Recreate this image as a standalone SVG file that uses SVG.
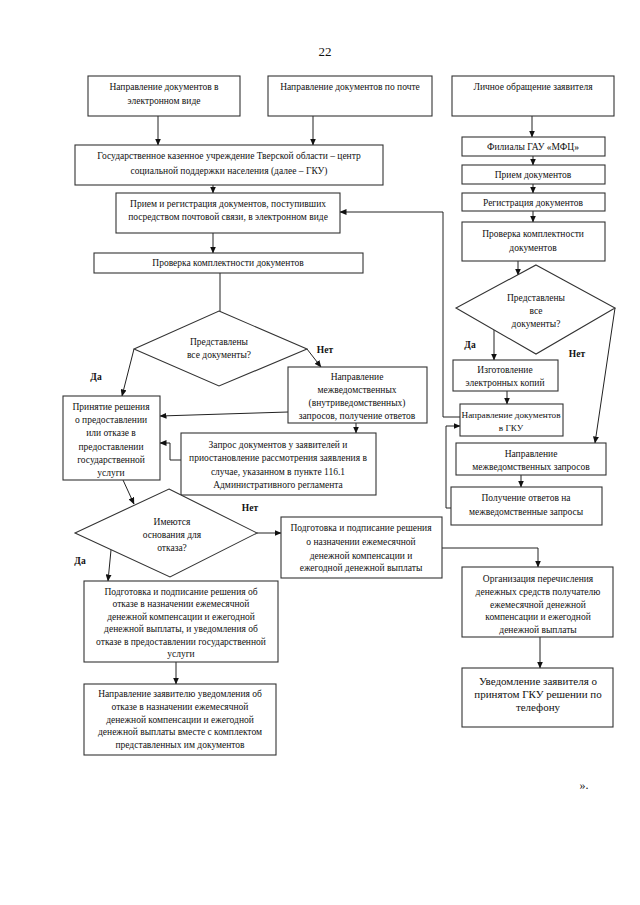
<svg xmlns="http://www.w3.org/2000/svg" width="640" height="905" viewBox="0 0 640 905">
<defs>
<marker id="ah" markerWidth="7" markerHeight="6" refX="6.5" refY="3" orient="auto" markerUnits="userSpaceOnUse">
<path d="M0,0 L7,3 L0,6 Z" fill="#111"/>
</marker>
<style>
.b{fill:#fff;stroke:#333;stroke-width:1.1}
.t{font-family:"Liberation Serif","Times New Roman",serif;font-size:9.5px;fill:#111;text-anchor:middle}
.s{font-size:9.2px}
.lb{font-family:"Liberation Serif","Times New Roman",serif;font-size:9.5px;font-weight:bold;fill:#111;text-anchor:middle}
.big{font-size:11px}
.c{fill:none;stroke:#222;stroke-width:1}
.a{marker-end:url(#ah)}
</style>
</defs>
<rect width="640" height="905" fill="#fff"/>
<text x="325" y="56" class="t" style="font-size:13px">22</text>

<g id="connectors">
<line class="c a" x1="158" y1="116" x2="158" y2="145"/>
<line class="c a" x1="313" y1="116" x2="313" y2="145"/>
<line class="c a" x1="532" y1="116" x2="532" y2="137"/>
<line class="c a" x1="213" y1="185" x2="213" y2="193"/>
<line class="c a" x1="213" y1="233" x2="213" y2="253"/>
<line class="c" x1="220" y1="273" x2="220" y2="311"/>
<line class="c a" x1="134" y1="349" x2="122" y2="396"/>
<line class="c a" x1="307" y1="349" x2="321" y2="367"/>
<line class="c a" x1="288" y1="412" x2="160" y2="416"/>
<line class="c a" x1="356" y1="423" x2="356" y2="433"/>
<polyline class="c a" points="181,460 170,460 170,443 160,443"/>
<line class="c a" x1="123" y1="480" x2="134" y2="504"/>
<line class="c a" x1="257" y1="533" x2="281" y2="533"/>
<line class="c a" x1="111" y1="550" x2="108" y2="581"/>
<line class="c a" x1="176" y1="662" x2="176" y2="684"/>
<polyline class="c a" points="442,548 538,548 538,567"/>
<line class="c a" x1="540" y1="637" x2="540" y2="668"/>
<line class="c a" x1="533" y1="156" x2="533" y2="165"/>
<line class="c a" x1="533" y1="184" x2="533" y2="193"/>
<line class="c a" x1="533" y1="211" x2="533" y2="222"/>
<line class="c a" x1="518" y1="261" x2="518" y2="275"/>
<line class="c a" x1="494" y1="330" x2="494" y2="360"/>
<line class="c a" x1="615" y1="308" x2="595" y2="443"/>
<line class="c a" x1="507" y1="391" x2="507" y2="404"/>
<polyline class="c a" points="460,417 443,417 443,212 340,212"/>
<line class="c a" x1="521" y1="475" x2="521" y2="487"/>
<polyline class="c a" points="451,508 446,508 446,426 460,426"/>
</g>

<g id="n-electronic">
<rect class="b" x="88" y="76" width="152" height="40"/>
<text class="t" x="164" y="90">Направление документов в</text>
<text class="t" x="164" y="104">электронном виде</text>
</g>
<g id="n-post">
<rect class="b" x="268" y="76" width="164" height="40"/>
<text class="t" x="350" y="90">Направление документов по почте</text>
</g>
<g id="n-personal">
<rect class="b" x="452" y="76" width="162" height="40"/>
<text class="t" x="533" y="90">Личное обращение заявителя</text>
</g>
<g id="n-gku">
<rect class="b" x="75" y="145" width="308" height="40"/>
<text class="t" x="229" y="159">Государственное казенное учреждение Тверской области – центр</text>
<text class="t" x="229" y="174">социальной поддержки населения (далее – ГКУ)</text>
</g>
<g id="n-receive">
<rect class="b" x="116" y="193" width="224" height="40"/>
<text class="t" x="228" y="207">Прием и регистрация документов, поступивших</text>
<text class="t" x="228" y="220">посредством почтовой связи, в электронном виде</text>
</g>
<g id="n-check">
<rect class="b" x="94" y="253" width="269" height="20"/>
<text class="t" x="228" y="266">Проверка комплектности документов</text>
</g>
<g id="n-dec1">
<polygon class="b" points="219,311 307,349 219,386 134,349"/>
<text class="t" x="219" y="345">Представлены</text>
<text class="t" x="219" y="358">все документы?</text>
</g>
<text class="lb" x="96" y="380">Да</text>
<text class="lb" x="325" y="353">Нет</text>
<g id="n-interdept">
<rect class="b" x="288" y="367" width="139" height="56"/>
<text class="t" x="357" y="380">Направление</text>
<text class="t" x="357" y="393">межведомственных</text>
<text class="t" x="357" y="406">(внутриведомственных)</text>
<text class="t" x="357" y="419">запросов, получение ответов</text>
</g>
<g id="n-decision">
<rect class="b" x="63" y="396" width="97" height="84"/>
<text class="t" x="111" y="410">Принятие решения</text>
<text class="t" x="111" y="423">о предоставлении</text>
<text class="t" x="111" y="436">или отказе в</text>
<text class="t" x="111" y="450">предоставлении</text>
<text class="t" x="111" y="463">государственной</text>
<text class="t" x="111" y="476">услуги</text>
</g>
<g id="n-request">
<rect class="b" x="181" y="433" width="195" height="62"/>
<text class="t" x="278" y="448">Запрос документов у заявителей и</text>
<text class="t" x="278" y="461">приостановление рассмотрения заявления в</text>
<text class="t" x="278" y="475">случае, указанном в пункте 116.1</text>
<text class="t" x="278" y="488">Административного регламента</text>
</g>
<g id="n-dec2">
<polygon class="b" points="169,489 257,533 170,577 75,533"/>
<text class="t" x="172" y="525">Имеются</text>
<text class="t" x="172" y="538">основания для</text>
<text class="t" x="172" y="551">отказа?</text>
</g>
<text class="lb" x="250" y="511">Нет</text>
<text class="lb" x="80" y="564">Да</text>
<g id="n-refuse">
<rect class="b" x="84" y="581" width="194" height="81"/>
<text class="t" x="181" y="595">Подготовка и подписание решения об</text>
<text class="t" x="181" y="607">отказе в назначении ежемесячной</text>
<text class="t" x="181" y="620">денежной компенсации и ежегодной</text>
<text class="t" x="181" y="632">денежной выплаты, и уведомления об</text>
<text class="t" x="181" y="645">отказе в предоставлении государственной</text>
<text class="t" x="181" y="657">услуги</text>
</g>
<g id="n-notify-refuse">
<rect class="b" x="84" y="684" width="192" height="71"/>
<text class="t" x="180" y="697">Направление заявителю уведомления об</text>
<text class="t" x="180" y="710">отказе в назначении ежемесячной</text>
<text class="t" x="180" y="723">денежной компенсации и ежегодной</text>
<text class="t" x="180" y="735">денежной выплаты вместе с комплектом</text>
<text class="t" x="180" y="748">представленных им документов</text>
</g>
<g id="n-grant">
<rect class="b" x="281" y="517" width="161" height="61"/>
<text class="t" x="361" y="531">Подготовка и подписание решения</text>
<text class="t" x="361" y="545">о назначении ежемесячной</text>
<text class="t" x="361" y="559">денежной компенсации и</text>
<text class="t" x="361" y="571">ежегодной денежной выплаты</text>
</g>
<g id="n-transfer">
<rect class="b" x="462" y="567" width="151" height="70"/>
<text class="t" x="538" y="582">Организация перечисления</text>
<text class="t" x="538" y="595">денежных средств получателю</text>
<text class="t" x="538" y="608">ежемесячной денежной</text>
<text class="t" x="538" y="620">компенсации и ежегодной</text>
<text class="t" x="538" y="633">денежной выплаты</text>
</g>
<g id="n-phone">
<rect class="b" x="462" y="668" width="151" height="59"/>
<text class="t big" x="538" y="685">Уведомление заявителя о</text>
<text class="t big" x="538" y="698">принятом ГКУ решении по</text>
<text class="t big" x="538" y="711">телефону</text>
</g>
<g id="n-mfc">
<rect class="b" x="462" y="137" width="143" height="19"/>
<text class="t" x="533" y="150">Филиалы ГАУ «МФЦ»</text>
</g>
<g id="n-mfc-receive">
<rect class="b" x="462" y="165" width="143" height="19"/>
<text class="t" x="533" y="178">Прием документов</text>
</g>
<g id="n-mfc-register">
<rect class="b" x="462" y="193" width="143" height="18"/>
<text class="t" x="533" y="206">Регистрация документов</text>
</g>
<g id="n-mfc-check">
<rect class="b" x="462" y="222" width="143" height="39"/>
<text class="t" x="533" y="237">Проверка комплектности</text>
<text class="t" x="533" y="251">документов</text>
</g>
<g id="n-dec3">
<polygon class="b" points="536,265 615,308 536,354 456,308"/>
<text class="t" x="536" y="301">Представлены</text>
<text class="t" x="536" y="314">все</text>
<text class="t" x="536" y="327">документы?</text>
</g>
<text class="lb" x="470" y="348">Да</text>
<text class="lb" x="577" y="357">Нет</text>
<g id="n-copies">
<rect class="b" x="453" y="360" width="105" height="31"/>
<text class="t" x="505" y="373">Изготовление</text>
<text class="t" x="505" y="386">электронных копий</text>
</g>
<g id="n-send-gku">
<rect class="b" x="460" y="404" width="103" height="32"/>
<text class="t s" x="511" y="418">Направление документов</text>
<text class="t s" x="511" y="431">в ГКУ</text>
</g>
<g id="n-mfc-interdept">
<rect class="b" x="456" y="443" width="150" height="32"/>
<text class="t" x="531" y="457">Направление</text>
<text class="t" x="531" y="470">межведомственных запросов</text>
</g>
<g id="n-answers">
<rect class="b" x="451" y="487" width="151" height="38"/>
<text class="t" x="526" y="501">Получение ответов на</text>
<text class="t" x="526" y="515">межведомственные запросы</text>
</g>
<text class="t" x="584" y="789" style="font-size:12px">».</text>
</svg>
